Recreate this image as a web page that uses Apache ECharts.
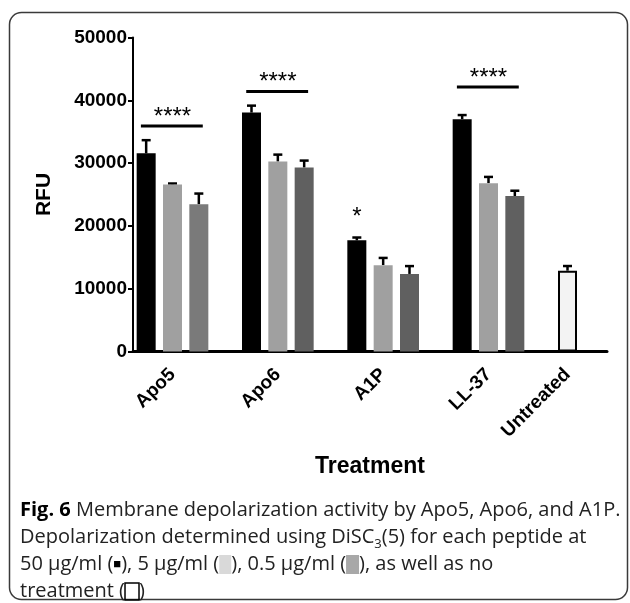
<!DOCTYPE html>
<html>
<head>
<meta charset="utf-8">
<script src="https://cdn.jsdelivr.net/npm/echarts@6/dist/echarts.min.js"></script>
<style>
  html, body { margin: 0; padding: 0; background: #ffffff; }
  #chart { width: 630px; height: 603px; }
</style>
</head>
<body>
<div id="chart"></div>
<script>
// Peptide groups and readings (mean RFU and upper error) per dose
const categories = ['Apo5', 'Apo6', 'A1P', 'LL-37'];
const untreatedName = 'Untreated';
const doseNames = ['50 µg/ml', '5 µg/ml', '0.5 µg/ml'];
const rfu50 = [31550, 38050, 17700, 37000];
const rfu5 = [26600, 30250, 13750, 26800];
const rfu05 = [23450, 29300, 12350, 24750];
const err50 = [2100, 1100, 450, 650];
const err5 = [150, 1100, 1150, 1000];
const err05 = [1700, 1100, 1250, 850];
const untreatedRfu = 12870;
const untreatedErr = 740;
const yTicks = [0, 10000, 20000, 30000, 40000, 50000];

// Significance marks: bars with "****" over whole groups, single "*" over one bar
const sigGroups = ['Apo5', 'Apo6', 'LL-37'];
const sigLevels = [35900, 41400, 42100];
const singleStarGroup = 'A1P';
const singleStarLevel = 21400;

const FONT = '"Liberation Sans", Arial, Helvetica, sans-serif';
const CAPTION_FONT = '"Open Sans", "Noto Sans", sans-serif';
const doseColors = ['#000000', '#a0a0a0', '#606060'];
const doseValues = [rfu50, rfu5, rfu05];
const doseErrors = [err50, err5, err05];

// Each group takes four slots on the x scale: three doses and a spacer.
const SLOTS_PER_GROUP = 4;
const untreatedSlot = categories.length * SLOTS_PER_GROUP + 0.5;
const slotCount = categories.length * SLOTS_PER_GROUP + 2;
const slotOf = (g, d) => g * SLOTS_PER_GROUP + d + 0.5;

const labelSlots = categories.map((_, g) => slotOf(g, 1)).concat([untreatedSlot]);
const labelNames = categories.concat([untreatedName]);

const barSeries = doseNames.map((name, d) => ({
  name: name,
  type: 'bar',
  barWidth: 19,
  barGap: '-100%',
  itemStyle: { color: doseColors[d] },
  data: doseValues[d].map((v, g) => {
    const item = { value: [slotOf(g, d), v] };
    if (d === 2 && g === 0) item.itemStyle = { color: '#7a7a7a' };
    return item;
  }),
  z: 2
}));

barSeries.push({
  name: untreatedName,
  type: 'bar',
  barWidth: 19,
  barGap: '-100%',
  itemStyle: { color: '#f3f3f3', borderColor: '#000', borderWidth: 2 },
  data: [[untreatedSlot, untreatedRfu]],
  z: 2
});

// Upper error bars: [slot, mean, mean + error]
const errorData = [];
doseNames.forEach((_, d) => {
  doseValues[d].forEach((v, g) => errorData.push([slotOf(g, d), v, v + doseErrors[d][g]]));
});
errorData.push([untreatedSlot, untreatedRfu, untreatedRfu + untreatedErr]);

const errorSeries = {
  type: 'custom',
  z: 1,
  silent: true,
  data: errorData,
  renderItem: function (params, api) {
    const base = api.coord([api.value(0), api.value(1)]);
    const top = api.coord([api.value(0), api.value(2)]);
    const half = 4.5;
    return {
      type: 'group',
      children: [
        { type: 'line', shape: { x1: base[0], y1: base[1], x2: top[0], y2: top[1] },
          style: { stroke: '#000', lineWidth: 2.5 } },
        { type: 'line', shape: { x1: top[0] - half, y1: top[1], x2: top[0] + half, y2: top[1] },
          style: { stroke: '#000', lineWidth: 2.5 } }
      ]
    };
  }
};

const sigData = sigGroups.map((name, i) => [categories.indexOf(name) * SLOTS_PER_GROUP, sigLevels[i]]);
const sigSeries = {
  type: 'custom',
  z: 3,
  silent: true,
  data: sigData,
  renderItem: function (params, api) {
    const start = api.value(0);
    const level = api.value(1);
    const a = api.coord([start + 0.3, level]);
    const b = api.coord([start + 2.65, level]);
    const mid = api.coord([start + 1.5, level]);
    return {
      type: 'group',
      children: [
        { type: 'line', shape: { x1: a[0], y1: a[1], x2: b[0], y2: b[1] },
          style: { stroke: '#000', lineWidth: 3 } },
        { type: 'text', x: mid[0], y: mid[1] + 3,
          style: { text: '****', font: '24px ' + FONT, fill: '#000', align: 'center', verticalAlign: 'bottom' } }
      ]
    };
  }
};

const starSeries = {
  type: 'custom',
  z: 3,
  silent: true,
  data: [[slotOf(categories.indexOf(singleStarGroup), 0), singleStarLevel]],
  renderItem: function (params, api) {
    const p = api.coord([api.value(0), api.value(1)]);
    return {
      type: 'text', x: p[0], y: p[1],
      style: { text: '*', font: '24px ' + FONT, fill: '#000', align: 'center', verticalAlign: 'middle' }
    };
  }
};

const caption = [
  '{b|Fig. 6} Membrane depolarization activity by Apo5, Apo6, and A1P.',
  'Depolarization determined using DiSC{sub|3}(5) for each peptide at',
  '50 µg/ml ({sq|■}), 5 µg/ml ({sw5| }), 0.5 µg/ml ({sw05| }), as well as no',
  'treatment ({box| })'
].join('\n');

const chart = echarts.init(document.getElementById('chart'), null, { renderer: 'canvas' });
chart.setOption({
  animation: false,
  backgroundColor: '#ffffff',
  grid: { left: 133, right: 23, top: 37.5, bottom: 251.5 },
  xAxis: {
    type: 'value',
    min: 0,
    max: slotCount,
    splitLine: { show: false },
    axisTick: { show: false },
    axisLine: { onZero: false, lineStyle: { color: '#000', width: 3 } },
    axisLabel: {
      customValues: labelSlots,
      formatter: function (v) {
        const i = labelSlots.indexOf(v);
        return i >= 0 ? labelNames[i] : '';
      },
      rotate: 45,
      margin: 20,
      color: '#000',
      fontFamily: FONT,
      fontWeight: 'bold',
      fontSize: 19
    },
    name: 'Treatment',
    nameLocation: 'middle',
    nameGap: 104,
    nameTextStyle: { color: '#000', fontFamily: FONT, fontWeight: 'bold', fontSize: 23 }
  },
  yAxis: {
    type: 'value',
    min: yTicks[0],
    max: yTicks[yTicks.length - 1],
    interval: yTicks[1] - yTicks[0],
    splitLine: { show: false },
    axisLine: { show: true, onZero: false, lineStyle: { color: '#000', width: 2 } },
    axisTick: { show: true, length: 5, lineStyle: { color: '#000', width: 2 } },
    axisLabel: {
      color: '#000', fontFamily: FONT, fontWeight: 'bold', fontSize: 19, margin: 6,
      formatter: function (v) { return String(v); }
    },
    name: 'RFU',
    nameLocation: 'middle',
    nameRotate: 90,
    nameGap: 78,
    nameTextStyle: { color: '#000', fontFamily: FONT, fontWeight: 'bold', fontSize: 21 }
  },
  graphic: [
    {
      type: 'rect',
      silent: true,
      shape: { x: 9.5, y: 12.5, width: 618, height: 587, r: 12 },
      style: { fill: 'none', stroke: '#3a3a3a', lineWidth: 1.5 }
    },
    {
      type: 'text',
      silent: true,
      left: 20,
      top: 497,
      style: {
        text: caption,
        font: '20px ' + CAPTION_FONT,
        fill: '#222',
        lineHeight: 27,
        rich: {
          b: { fontWeight: 'bold', fontSize: 20, fontFamily: CAPTION_FONT, fill: '#000', lineHeight: 27 },
          sub: { fontSize: 13, fontFamily: CAPTION_FONT, lineHeight: 27, verticalAlign: 'bottom', fill: '#222' },
          sq: { fontSize: 13, fontFamily: CAPTION_FONT, lineHeight: 27, fill: '#000' },
          sw5: { backgroundColor: '#d9d9d9', width: 12, height: 19, lineHeight: 19 },
          sw05: { backgroundColor: '#a8a8a8', width: 13, height: 19, lineHeight: 19 },
          box: { borderColor: '#000', borderWidth: 1.5, width: 14, height: 17, lineHeight: 17 }
        }
      }
    }
  ],
  series: barSeries.concat([errorSeries, sigSeries, starSeries])
});
</script>
</body>
</html>
